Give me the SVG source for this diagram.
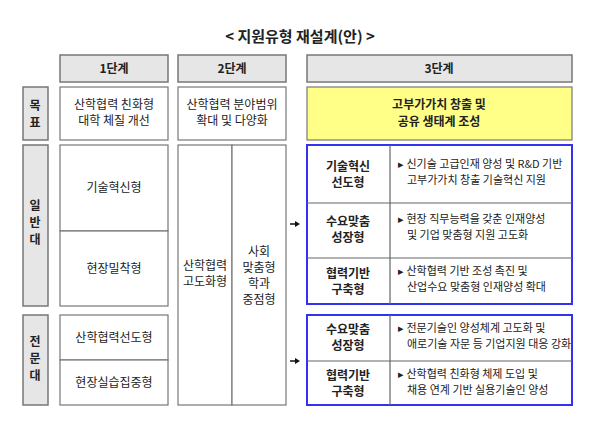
<svg xmlns="http://www.w3.org/2000/svg" width="600" height="428" viewBox="0 0 600 428">
<style>
text{font-family:"Noto Sans CJK KR","Liberation Sans",sans-serif;fill:#222;text-anchor:middle}
.g{fill:#e6e6e6;stroke:#777;stroke-width:1.5}
.w{fill:#fff;stroke:#777;stroke-width:1.2}
.t{font-size:12px}
.b{font-size:12px;font-weight:bold}
.d{font-size:11px;text-anchor:start}
.bl{fill:none;stroke:#3333ee;stroke-width:2}
.ln{stroke:#666;stroke-width:1.2}
</style>
<rect width="600" height="428" fill="#fff"/>
<text x="300" y="42" style="font-size:15px;font-weight:bold">&lt; 지원유형  재설계(안) &gt;</text>
<g id="headers">
<rect class="g" x="60" y="55" width="108" height="27"/><text class="b" x="114" y="73">1단계</text>
<rect class="g" x="178" y="55" width="108" height="27"/><text class="b" x="232" y="73">2단계</text>
<rect class="g" x="307" y="55" width="265" height="27"/><text class="b" x="439" y="73">3단계</text>
</g>
<g id="labels">
<rect class="g" x="23" y="87" width="25" height="53"/><text class="b" x="35" y="110">목</text><text class="b" x="35" y="127">표</text>
<rect class="g" x="23" y="145" width="25" height="161"/><text class="b" x="35" y="210">일</text><text class="b" x="35" y="227">반</text><text class="b" x="35" y="244">대</text>
<rect class="g" x="23" y="315" width="25" height="90"/><text class="b" x="35" y="346">전</text><text class="b" x="35" y="363">문</text><text class="b" x="35" y="380">대</text>
</g>
<g id="goals">
<rect class="w" x="60" y="87" width="108" height="53"/><text class="t" x="114" y="109">산학협력 친화형</text><text class="t" x="114" y="125">대학 체질 개선</text>
<rect class="w" x="178" y="87" width="108" height="53"/><text class="t" x="232" y="109">산학협력 분야범위</text><text class="t" x="232" y="125">확대 및 다양화</text>
<rect x="307" y="87" width="265" height="53" fill="#ffff88" stroke="#777" stroke-width="1.2"/><text class="b" x="439" y="109">고부가가치 창출 및</text><text class="b" x="439" y="126">공유 생태계 조성</text>
</g>
<g id="stage1">
<rect class="w" x="60" y="145" width="108" height="86"/><text class="t" x="114" y="192">기술혁신형</text>
<rect class="w" x="60" y="231" width="108" height="75"/><text class="t" x="114" y="273">현장밀착형</text>
<rect class="w" x="60" y="315" width="108" height="45"/><text class="t" x="114" y="342">산학협력선도형</text>
<rect class="w" x="60" y="360" width="108" height="45"/><text class="t" x="114" y="387">현장실습집중형</text>
</g>
<g id="stage2">
<rect class="w" x="178" y="145" width="54" height="260"/><text class="t" x="205" y="270">산학협력</text><text class="t" x="205" y="286">고도화형</text>
<rect class="w" x="232" y="145" width="54" height="260"/><text class="t" x="259" y="256">사회</text><text class="t" x="259" y="272">맞춤형</text><text class="t" x="259" y="288">학과</text><text class="t" x="259" y="304">중점형</text>
</g>
<g id="stage3a">
<rect class="bl" x="307" y="145" width="265" height="159"/>
<line class="ln" x1="390" y1="145" x2="390" y2="304"/><line class="ln" x1="307" y1="203" x2="572" y2="203"/><line class="ln" x1="307" y1="258" x2="572" y2="258"/>
<text class="b" x="348" y="171">기술혁신</text><text class="b" x="348" y="187">선도형</text>
<text class="d" x="398" y="168">▸ 신기술 고급인재 양성 및 R&amp;D 기반</text><text class="d" x="407" y="184">고부가가치 창출 기술혁신 지원</text>
<text class="b" x="348" y="226">수요맞춤</text><text class="b" x="348" y="242">성장형</text>
<text class="d" x="398" y="223">▸ 현장 직무능력을 갖춘 인재양성</text><text class="d" x="407" y="239">및 기업 맞춤형 지원 고도화</text>
<text class="b" x="348" y="278">협력기반</text><text class="b" x="348" y="294">구축형</text>
<text class="d" x="398" y="275">▸ 산학협력 기반 조성 촉진 및</text><text class="d" x="407" y="291">산업수요 맞춤형 인재양성 확대</text>
</g>
<g id="stage3b">
<rect class="bl" x="307" y="315" width="265" height="90"/>
<line class="ln" x1="390" y1="315" x2="390" y2="405"/><line class="ln" x1="307" y1="361" x2="572" y2="361"/>
<text class="b" x="348" y="334">수요맞춤</text><text class="b" x="348" y="350">성장형</text>
<text class="d" x="398" y="332">▸ 전문기술인 양성체계 고도화 및</text><text class="d" x="407" y="348">애로기술 자문 등 기업지원 대응 강화</text>
<text class="b" x="348" y="380">협력기반</text><text class="b" x="348" y="396">구축형</text>
<text class="d" x="398" y="378">▸ 산학협력 친화형 체제 도입 및</text><text class="d" x="407" y="394">채용 연계 기반 실용기술인 양성</text>
</g>
<g id="connectors" stroke="#111" stroke-width="1.5" fill="#111">
<line x1="290" y1="224" x2="296" y2="224"/><path d="M295 221 L300 224 L295 227Z" stroke="none"/>
<line x1="290" y1="361" x2="296" y2="361"/><path d="M295 358 L300 361 L295 364Z" stroke="none"/>
</g>
</svg>
